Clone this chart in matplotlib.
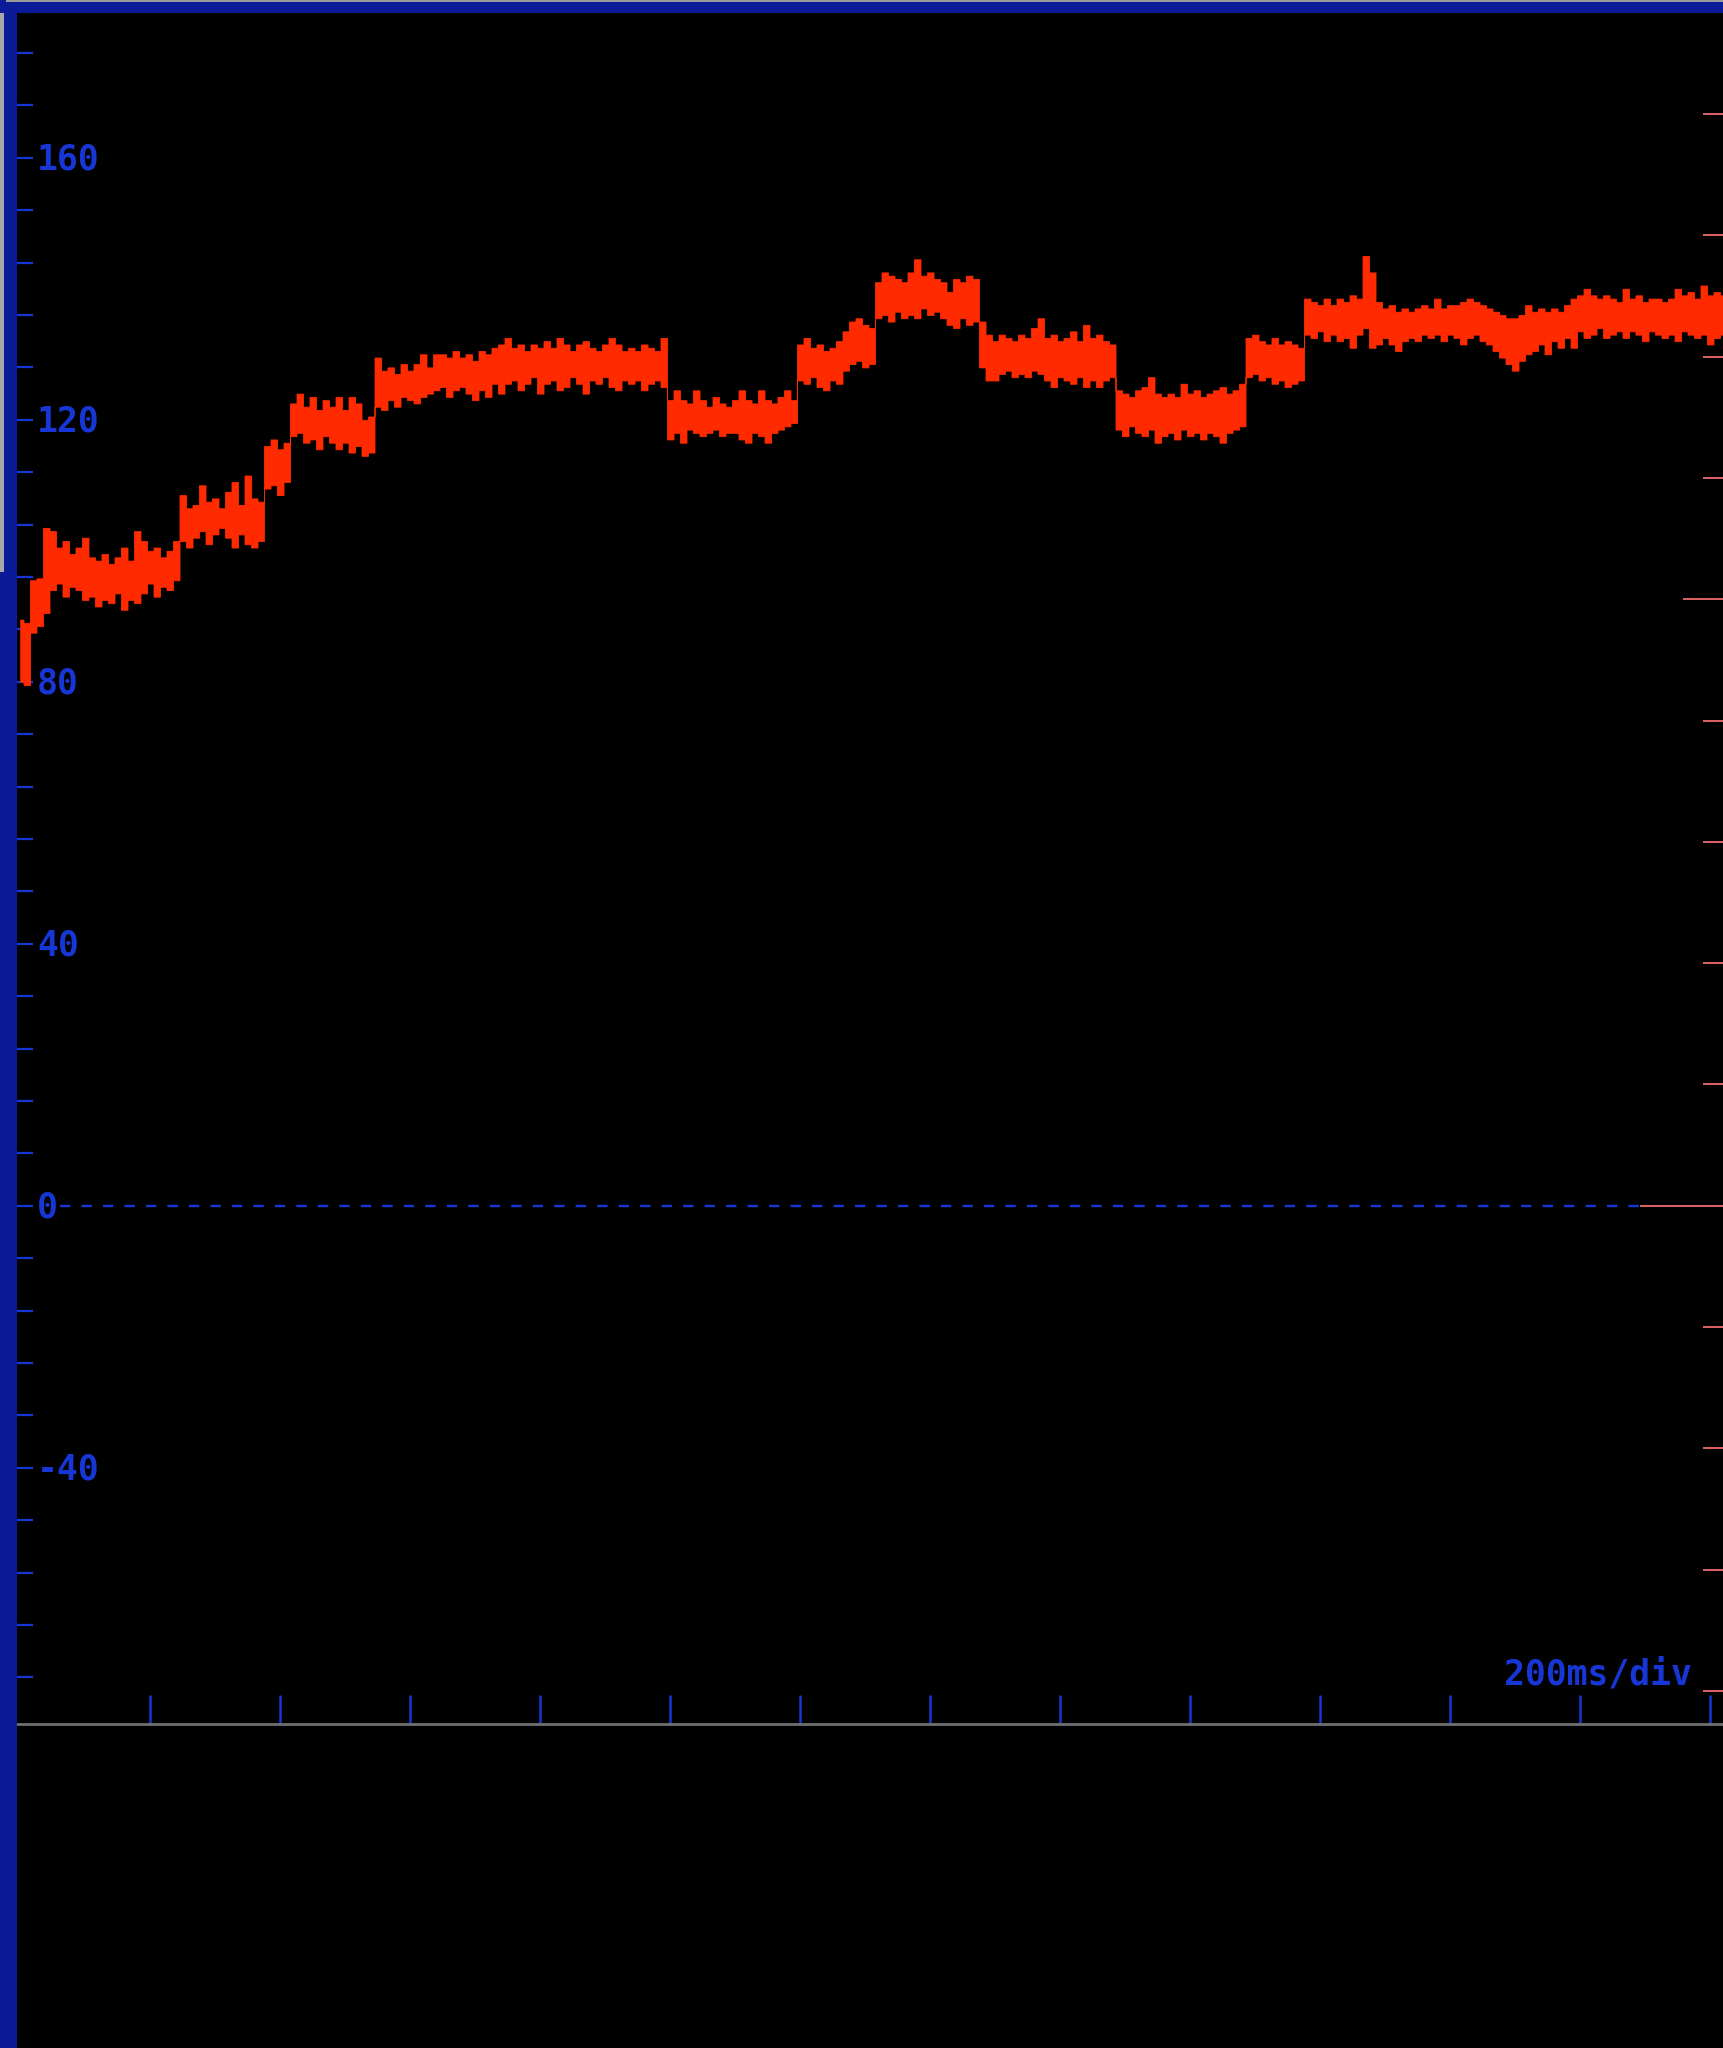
import numpy as np
import matplotlib.pyplot as plt
from matplotlib import transforms
from matplotlib.patches import Rectangle

# envelope of channel A, one max/min pair per 10 ms column
SAMPLE_MS = 10

trace_hi = [
    89.5, 89.0, 95.5, 95.8, 103.5,
    103.0, 100.5, 101.5, 99.5, 100.5, 102.0, 99.0, 98.5, 99.5, 98.0,
    99.0, 100.5, 98.5, 103.0, 101.5, 100.0, 100.5, 99.0, 100.0, 101.5,
    108.5, 106.5, 107.0, 110.0, 107.5, 108.0, 106.5, 109.0, 110.5, 107.0, 111.5, 108.0, 107.5,
    116.0, 117.0, 115.5, 116.5,
    122.5, 124.0, 122.0, 123.5, 121.5, 123.0, 122.0, 123.5, 121.5, 123.5, 122.5, 120.0, 120.5,
    129.5, 127.5, 128.0, 127.0, 128.5, 127.5, 128.5, 130.0, 128.0, 130.0,
    130.0, 129.5, 130.5, 129.5, 130.0, 129.0, 130.5, 130.0, 131.0, 131.5,
    132.5, 131.0, 131.5, 130.5, 131.5, 131.0, 132.0, 131.0, 132.5, 131.5,
    130.5, 131.5, 132.0, 131.0, 130.5, 131.5, 132.5, 131.5, 130.5, 131.0,
    130.5, 131.5, 131.0, 130.5, 132.5,
    123.0, 124.5, 123.0, 122.5, 124.5, 123.0, 122.0, 123.5, 122.5, 122.0,
    123.0, 124.5, 123.0, 122.5, 124.5, 123.0, 122.5, 123.5, 124.5, 123.0,
    131.5, 132.5, 131.0, 131.5, 130.5, 131.0, 132.0,
    133.5, 135.0, 135.5, 134.5, 134.0,
    141.0, 142.5, 142.0, 141.5, 141.0, 142.5, 144.5, 142.0,
    142.5, 141.5, 141.0, 139.5, 141.5, 141.0, 142.0, 141.5,
    135.0, 133.0,
    132.0, 133.0, 132.5, 132.0, 133.0, 132.5, 134.0, 135.5, 132.5, 133.0,
    132.0, 132.5, 133.5, 132.0, 134.5, 132.5, 133.0, 132.0, 131.5,
    124.5, 124.0, 123.5, 124.5, 125.0, 126.5, 124.0, 123.5, 124.0, 123.5,
    125.5, 124.0, 124.5, 123.5, 124.0, 124.5, 125.0, 124.0, 124.5, 125.5,
    132.5, 133.0, 132.0, 131.5, 132.5, 131.5, 132.0, 131.5, 131.0,
    138.5, 138.0, 137.5, 138.5, 137.5, 138.5, 138.0, 139.0, 138.5, 145.0,
    142.5, 138.0, 137.0, 137.5, 136.5, 137.0, 136.5, 137.0, 137.5, 137.0,
    138.5, 137.0, 137.5, 137.5, 138.0, 138.5, 138.0, 137.5, 137.0, 136.5,
    136.0, 135.5, 135.5, 136.0, 137.5, 136.5, 137.0, 136.5, 137.0, 136.5,
    137.5, 138.5, 139.0, 140.0, 139.0, 138.5, 139.0, 138.5, 138.0, 140.0,
    138.5, 139.0, 138.0, 138.5, 138.5, 138.0, 138.5, 140.0, 139.0, 139.5,
    138.5, 140.5, 139.0, 139.5, 139.0,
]

trace_lo = [
    80.0, 79.5, 87.5, 88.5, 90.5,
    94.0, 95.0, 93.0, 94.5, 94.0, 92.5, 93.0, 91.5, 92.5, 92.0,
    93.5, 91.0, 92.5, 92.0, 93.5, 95.0, 93.0, 94.5, 94.0, 95.5,
    101.5, 100.5, 102.0, 103.0, 101.0, 102.5, 103.5, 102.0, 100.5, 102.5, 101.0, 100.5, 101.5,
    109.5, 110.0, 108.5, 110.5,
    117.5, 118.0, 116.5, 117.0, 115.5, 117.5, 116.5, 115.5, 116.5, 115.0, 116.0, 114.5, 115.0,
    122.0, 121.5, 123.0, 122.0, 123.5, 123.0, 122.5, 123.5, 124.0, 124.5,
    125.0, 123.5, 124.5, 125.0, 124.0, 123.0, 124.5, 123.5, 125.5, 124.0,
    125.5, 126.0, 124.5, 125.5, 126.5, 124.0, 125.5, 126.0, 124.5, 125.0,
    126.5, 125.5, 124.0, 126.0, 125.5, 126.5, 125.0, 124.5, 126.0, 125.5,
    126.0, 124.5, 125.5, 126.0, 125.0,
    117.0, 118.0, 116.5, 118.5, 118.0, 117.5, 118.0, 118.5, 117.5, 118.0,
    118.0, 117.0, 116.5, 118.0, 117.5, 116.5, 118.0, 118.5, 119.0, 119.5,
    126.0, 125.5, 126.5, 125.0, 124.5, 126.0, 125.5,
    127.5, 128.5, 129.0, 128.0, 128.5,
    135.5, 136.0, 135.0, 136.5, 135.5, 136.0, 135.5, 137.0,
    136.0, 136.5, 135.5, 134.5, 134.0, 135.5, 134.5, 135.0,
    128.0, 126.0,
    126.0, 127.0, 127.5, 126.5, 127.0, 126.5, 127.5, 127.0, 126.0, 125.0,
    126.5, 126.0, 125.5, 126.5, 125.0, 126.0, 125.0, 126.0, 126.5,
    118.5, 117.5, 119.0, 118.0, 117.5, 118.5, 116.5, 117.5, 118.0, 117.0,
    118.5, 117.5, 118.0, 117.0, 118.0, 117.5, 116.5, 118.0, 118.5, 119.0,
    126.5, 127.0, 126.0, 126.5, 125.5, 126.0, 125.0, 125.5, 126.0,
    133.0, 132.5, 133.5, 132.0, 133.0, 132.0, 132.5, 131.0, 133.0, 134.0,
    131.0, 131.5, 132.5, 131.5, 130.5, 132.0, 132.5, 132.0, 133.0, 132.5,
    133.0, 132.0, 133.0, 132.5, 131.5, 132.5, 133.0, 132.0, 131.5, 130.5,
    129.5, 128.5, 127.5, 129.0, 130.0, 130.5, 131.5, 130.0, 132.0, 131.0,
    132.5, 131.0, 133.5, 132.5, 133.0, 134.0, 132.5, 133.0, 133.5, 132.5,
    133.5, 133.0, 132.0, 133.5, 133.0, 132.5, 133.0, 132.0, 133.5, 133.0,
    132.5, 133.0, 131.5, 132.5, 133.0,
]

y_ticks = np.arange(-72, 177, 8)
y_labels = [160, 120, 80, 40, 0, -40]
x_ticks = np.arange(200, 2601, 200)
# channel B graticule (its own divisions), 0 and 5 get longer marks
ch2_ticks = [-4, -3, -2, -1, 1, 2, 3, 4, 6, 7, 8, 9]
ch2_marks = [0, 5]
timebase = "200ms/div"

BLUE = "#1637d6"
STRIP = "#0b1a96"
TRACE = "#ff2a00"
SALMON = "#d86060"
GREY = "#707070"

W, H = 1723, 2048
MONO = "DejaVu Sans Mono"

fig = plt.figure(figsize=(W / 100, H / 100), dpi=100, facecolor="black")

# scope frame
fig.add_artist(Rectangle((0, 0), 17 / W, 1, color=STRIP, transform=fig.transFigure, lw=0))
fig.add_artist(Rectangle((0, 1 - 572 / H), 4 / W, (572 - 13) / H, color="#a8a8a8",
                         transform=fig.transFigure, lw=0))
fig.add_artist(Rectangle((0, 1 - 13 / H), 1, 13 / H, color=STRIP, transform=fig.transFigure, lw=0))
fig.add_artist(Rectangle((6 / W, 1 - 1.5 / H), 1, 1.5 / H, color="#9a9a9a",
                         transform=fig.transFigure, lw=0))

ax = fig.add_axes([17 / W, 1 - 1724 / H, (W - 17) / W, (1724 - 13) / H])
ax.set_facecolor("black")
ax.set_xlim(-5, 2619.6)
ax.set_ylim(-79.1, 182.1)

t = np.arange(len(trace_hi)) * SAMPLE_MS
ax.fill_between(t, trace_lo, trace_hi, step="mid", color=TRACE, lw=0.6, zorder=3)

# zero reference of channel A
ax.axhline(0, xmin=(60 - 17) / (W - 17), xmax=(1640 - 17) / (W - 17),
           color=BLUE, lw=1.7, ls=(0, (4.4, 4.7)), zorder=2)

ax.set_yticks(y_ticks)
ax.set_xticks(x_ticks)
ax.tick_params(axis="y", direction="in", length=11.5, width=1.6, color=BLUE,
               labelleft=False)
ax.tick_params(axis="x", direction="in", length=21, width=1.8, color=BLUE,
               labelbottom=False)
for side in ["top", "left", "right"]:
    ax.spines[side].set_visible(False)
ax.spines["bottom"].set_color(GREY)
ax.spines["bottom"].set_linewidth(2.0)

label_tr = transforms.offset_copy(ax.get_yaxis_transform(), fig=fig, y=-12, units="dots")
for v in y_labels:
    ax.text((37 - 17) / (W - 17), v, str(v), transform=label_tr, color=BLUE,
            family=MONO, fontsize=25, fontweight="bold", ha="left", va="baseline")

# channel B markers on the right edge
ax2 = ax.twinx()
ax2.set_ylim(-4.273, 9.833)
ax2.set_yticks(ch2_ticks)
ax2.tick_params(axis="y", right=True, direction="in", length=14.4, width=1.44,
                color=SALMON, labelright=False)
for side in ax2.spines:
    ax2.spines[side].set_visible(False)
ax2.hlines(ch2_marks, xmin=[(1640 - 17) / (W - 17), (1683 - 17) / (W - 17)], xmax=1,
           transform=ax2.get_yaxis_transform(), color=SALMON, lw=1.44)

fig.text(1504 / W, 1 - 1685 / H, timebase, color=BLUE, family=MONO, fontsize=25,
         fontweight="bold", ha="left", va="baseline")

fig.savefig("out.png", dpi=100, facecolor="black")
